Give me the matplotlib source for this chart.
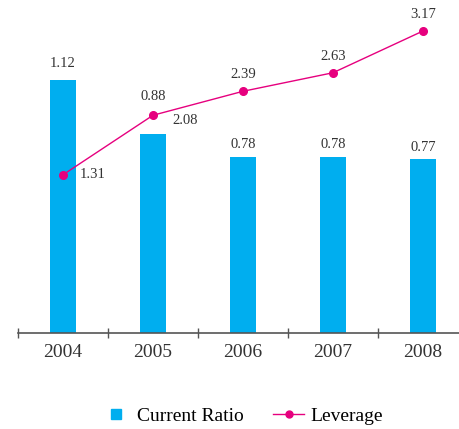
import matplotlib.pyplot as plt
import numpy as np

years = ["2004", "2005", "2006", "2007", "2008"]
current_ratio = [1.12, 0.88, 0.78, 0.78, 0.77]
leverage = [1.31, 2.08, 2.39, 2.63, 3.17]

cyan = "#00AEEF"
magenta = "#E6007E"
plt.rcParams["font.family"] = ["Liberation Serif", "DejaVu Serif"]

fig = plt.figure(figsize=(4.6, 4.29), dpi=100)
# axes span from the first tick to just past the right edge
ax = fig.add_axes([18 / 460, 96 / 429, 450 / 460, 333 / 429])
x = np.arange(len(years))

ax.bar(x, current_ratio, width=0.28, color=cyan, zorder=2)
ax.set_xlim(-0.5, 4.5)
ax.set_ylim(0, 333 / 226)

ax2 = ax.twinx()
ax2.plot(x, leverage, color=magenta, lw=1, marker="o", ms=5.5, zorder=3)
ax2.set_ylim(-0.737, 3.571)

# value labels (offsets in points, label centre from the mark)
bar_off = [(0, 11.5), (0, 27), (0, 8.6), (0, 8.6), (0, 8.6)]
for xi, v, off in zip(x, current_ratio, bar_off):
    ax.annotate(f"{v:.2f}", (xi, v), xytext=off, textcoords="offset points",
                ha="center", va="center", fontsize=10.5, color="#333333")
line_off = [(12, 0), (14, -3.6), (0, 12), (0, 11.5), (0, 12)]
line_ha = ["left", "left", "center", "center", "center"]
for xi, v, off, ha in zip(x, leverage, line_off, line_ha):
    ax2.annotate(f"{v:.2f}", (xi, v), xytext=off, textcoords="offset points",
                 ha=ha, va="center", fontsize=10.5, color="#333333")

for a in (ax, ax2):
    for s in ["top", "right", "left"]:
        a.spines[s].set_visible(False)
    a.set_yticks([])
ax2.spines["bottom"].set_visible(False)
ax.spines["bottom"].set_color("#555555")
ax.spines["bottom"].set_linewidth(1.2)

ax.set_xticks(x)
ax.set_xticklabels(years, fontsize=14, color="#333333")
ax.tick_params(axis="x", which="major", length=0, pad=8)
ax.set_xticks(np.arange(-0.5, 4.5, 1), minor=True)
ax.tick_params(axis="x", which="minor", length=7, direction="inout",
               color="#555555", width=1)

h1 = plt.Line2D([], [], marker="s", color=cyan, ls="none", ms=7.5)
h2 = plt.Line2D([], [], marker="o", color=magenta, lw=1, ms=5)
fig.legend([h1, h2], ["Current Ratio", "Leverage"], loc="center",
           bbox_to_anchor=(0.525, 0.03), ncol=2, frameon=False,
           fontsize=14, handlelength=1.6, columnspacing=1.5,
           handletextpad=0.3, borderaxespad=0)

fig.savefig("out.png", dpi=100)
